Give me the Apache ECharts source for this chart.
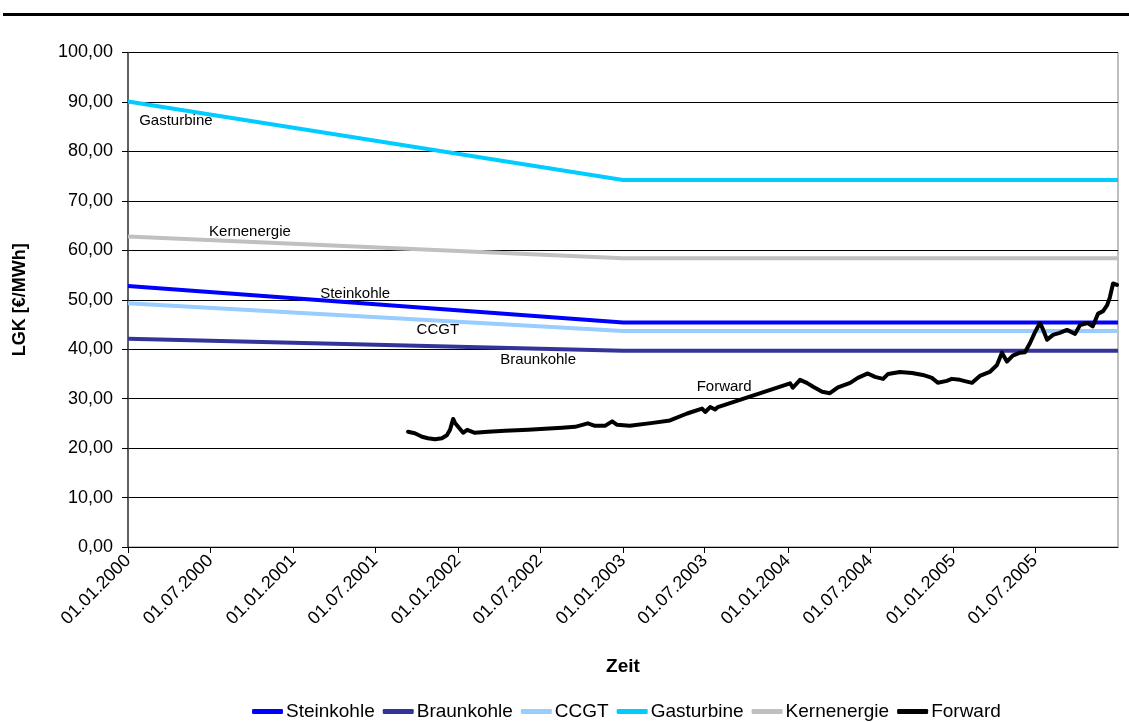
<!DOCTYPE html>
<html>
<head>
<meta charset="utf-8">
<script src="https://cdn.jsdelivr.net/npm/echarts@6/dist/echarts.min.js"></script>
<style>
html,body{margin:0;padding:0;background:#fff;}
#chart{width:1129px;height:722px;}
</style>
</head>
<body>
<div id="chart"></div>
<script>
// ---- data ----
const xTickLabels = ['01.01.2000','01.07.2000','01.01.2001','01.07.2001','01.01.2002','01.07.2002',
  '01.01.2003','01.07.2003','01.01.2004','01.07.2004','01.01.2005','01.07.2005'];
const yTickValues = [0,10,20,30,40,50,60,70,80,90,100];

const costDates = ['2000-01-01','2003-01-01','2006-01-01'];
const steinkohle = [52.8, 45.4, 45.4];
const braunkohle = [42.1, 39.7, 39.7];
const ccgt       = [49.3, 43.7, 43.7];
const gasturbine = [90.1, 74.2, 74.2];
const kernenergie= [62.8, 58.4, 58.4];

const forwardDates = [
 '2001-09-12','2001-09-27','2001-10-13','2001-10-26','2001-11-11','2001-11-26','2001-12-07','2001-12-14',
 '2001-12-21','2001-12-25','2002-01-01','2002-01-05','2002-01-12','2002-01-21','2002-02-07','2002-03-08',
 '2002-04-15','2002-06-05','2002-07-12','2002-08-19','2002-09-17','2002-10-15','2002-10-31','2002-11-22',
 '2002-12-08','2002-12-19','2003-01-16','2003-03-08','2003-04-15','2003-05-23','2003-06-25','2003-07-02',
 '2003-07-13','2003-07-24','2003-07-30','2004-01-06','2004-01-12','2004-01-28','2004-02-12','2004-02-26',
 '2004-03-17','2004-04-03','2004-04-21','2004-05-18','2004-06-04','2004-06-26','2004-07-12','2004-07-30',
 '2004-08-10','2004-09-05','2004-10-02','2004-10-26','2004-11-15','2004-11-28','2004-12-18','2004-12-29',
 '2005-01-16','2005-01-29','2005-02-12','2005-03-01','2005-03-23','2005-04-08','2005-04-19','2005-04-30',
 '2005-05-13','2005-05-29','2005-06-09','2005-06-20','2005-07-01','2005-07-12','2005-07-19','2005-07-28',
 '2005-08-10','2005-08-25','2005-09-10','2005-09-28','2005-10-09','2005-10-26','2005-11-06','2005-11-18',
 '2005-11-29','2005-12-08','2005-12-14','2005-12-21','2005-12-30'];
const forwardValues = [
 23.3,23.0,22.3,22.0,21.8,22.0,22.6,23.7,
 25.9,25.1,24.3,24.1,23.1,23.7,23.1,23.3,
 23.5,23.7,23.9,24.1,24.3,25.0,24.5,24.5,
 25.4,24.7,24.5,25.1,25.6,27.0,28.0,27.3,
 28.3,27.8,28.3,33.1,32.2,33.8,33.2,32.4,
 31.4,31.1,32.3,33.2,34.2,35.1,34.4,34.0,
 35.0,35.4,35.2,34.8,34.2,33.2,33.6,34.0,
 33.8,33.5,33.2,34.6,35.4,36.8,39.3,37.5,
 38.7,39.3,39.4,41.2,43.4,45.3,44.0,41.9,
 42.9,43.3,43.9,43.1,44.9,45.3,44.6,47.2,
 47.7,48.9,50.5,53.3,53.0];

// inline label anchors [date, value]
const lblGasturbine  = ['2000-04-16', 86.1];
const lblKernenergie = ['2000-09-27', 63.7];
const lblSteinkohle  = ['2001-05-18', 51.2];
const lblCCGT        = ['2001-11-17', 43.9];
const lblBraunkohle  = ['2002-06-27', 37.8];
const lblForward     = ['2003-08-13', 32.4];

// ---- helpers ----
const FONT = '"Liberation Sans", Arial, sans-serif';
const t = s => Date.parse(s + 'T00:00:00Z');
const tickDate = s => { const p = s.split('.'); return Date.UTC(+p[2], +p[1]-1, +p[0]); };
const xTicks = xTickLabels.map(tickDate);
const pad = n => (n < 10 ? '0' : '') + n;
const fmtDate = v => { const d = new Date(v); return pad(d.getUTCDate()) + '.' + pad(d.getUTCMonth()+1) + '.' + d.getUTCFullYear(); };
const pairs = (dates, vals) => dates.map((d, i) => [t(d), vals[i]]);

function labelMark(name, anchor) {
  return {
    silent: true,
    symbol: 'circle', symbolSize: 0,
    label: { show: true, position: 'inside', formatter: name, color: '#000', fontSize: 15, fontFamily: FONT },
    data: [{ coord: [t(anchor[0]), anchor[1]] }]
  };
}

function costSeries(name, vals, color, anchor) {
  return {
    name, type: 'line', data: pairs(costDates, vals), showSymbol: false, symbol: 'none',
    lineStyle: { color, width: 4 }, itemStyle: { color }, animation: false,
    markPoint: labelMark(name, anchor)
  };
}

const chart = echarts.init(document.getElementById('chart'), null, { renderer: 'canvas' });
chart.setOption({
  animation: false,
  backgroundColor: '#fff',
  textStyle: { fontFamily: FONT },
  graphic: [{ type: 'rect', left: 3, top: 13, shape: { width: 1126, height: 3 }, style: { fill: '#000' } }],
  grid: { left: 128, right: 11, top: 52.5, bottom: 175, show: true, borderColor: '#808080', borderWidth: 1, containLabel: false },
  legend: {
    left: 247, top: 697,
    itemWidth: 31, itemHeight: 5, itemGap: 8, icon: 'roundRect',
    textStyle: { fontSize: 19, color: '#000', fontFamily: FONT, padding: [0, 0, 0, -2] },
    data: ['Steinkohle','Braunkohle','CCGT','Gasturbine','Kernenergie','Forward']
  },
  xAxis: {
    type: 'value', min: t('2000-01-01'), max: t('2006-01-01'),
    name: 'Zeit', nameLocation: 'middle', nameGap: 110,
    nameTextStyle: { fontSize: 19, fontWeight: 'bold', color: '#000', fontFamily: FONT },
    axisLine: { show: true, lineStyle: { color: '#000', width: 1 } },
    axisTick: { show: true, length: 6, lineStyle: { color: '#000' }, customValues: xTicks },
    axisLabel: { customValues: xTicks, rotate: 45, margin: 11, fontSize: 18, color: '#000', fontFamily: FONT, formatter: fmtDate },
    splitLine: { show: false }
  },
  yAxis: {
    type: 'value', min: yTickValues[0], max: yTickValues[yTickValues.length-1], interval: 10,
    name: 'LGK [€/MWh]', nameLocation: 'middle', nameGap: 99, nameRotate: 90,
    nameTextStyle: { fontSize: 18, fontWeight: 'bold', color: '#000', fontFamily: FONT },
    axisLine: { show: true, lineStyle: { color: '#404040', width: 1.5 } },
    axisTick: { show: true, length: 6, lineStyle: { color: '#000' } },
    axisLabel: { fontSize: 18, color: '#000', margin: 15, fontFamily: FONT, formatter: v => v.toFixed(2).replace('.', ',') },
    splitLine: { show: true, lineStyle: { color: '#000', width: 1 } }
  },
  series: [
    costSeries('Steinkohle', steinkohle, '#0000FF', lblSteinkohle),
    costSeries('Braunkohle', braunkohle, '#333399', lblBraunkohle),
    costSeries('CCGT', ccgt, '#99CCFF', lblCCGT),
    costSeries('Gasturbine', gasturbine, '#00CCFF', lblGasturbine),
    costSeries('Kernenergie', kernenergie, '#C0C0C0', lblKernenergie),
    {
      name: 'Forward', type: 'line', data: pairs(forwardDates, forwardValues), showSymbol: false, symbol: 'none',
      lineStyle: { color: '#000', width: 4, join: 'round', cap: 'round' }, itemStyle: { color: '#000' }, z: 5,
      markPoint: labelMark('Forward', lblForward)
    }
  ]
});
</script>
</body>
</html>
